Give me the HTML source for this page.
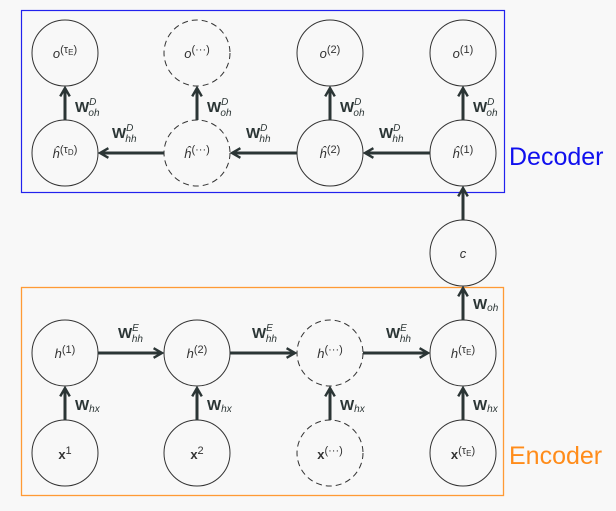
<!DOCTYPE html>
<html><head><meta charset="utf-8"><style>
body{margin:0;background:#f8f8f8;}
svg{display:block;font-family:"Liberation Sans","DejaVu Sans",sans-serif;}
.n{font-size:13px;fill:#333;font-style:italic}
.n tspan{font-style:normal}
.w{font-size:15px;font-weight:bold;fill:#2b3535}
.s{font-size:10px;font-style:italic;font-weight:normal}
</style></head><body>
<svg width="616" height="511" viewBox="0 0 616 511">
<defs><marker id="ah" viewBox="0 0 10 10" refX="8" refY="5" markerWidth="4" markerHeight="4" orient="auto"><path d="M1,1 L8,5 L1,9" fill="none" stroke="#2b3535" stroke-width="2"/></marker></defs>
<rect x="21.5" y="10.5" width="483" height="182" fill="none" stroke="#2222ee" stroke-width="1.2"/>
<rect x="21.5" y="287.5" width="482" height="208" fill="none" stroke="#ff9a35" stroke-width="1.3"/>
<text x="509" y="165" font-size="25" fill="#1010ee">Decoder</text>
<text x="509" y="464" font-size="25" fill="#ff8c1a">Encoder</text>
<g fill="none" stroke="#333" stroke-width="1">
<circle cx="65" cy="53" r="33"/>
<circle cx="197" cy="53" r="33" stroke-dasharray="6,4"/>
<circle cx="330" cy="53" r="33"/>
<circle cx="463" cy="53" r="33"/>
<circle cx="65" cy="153" r="33"/>
<circle cx="197" cy="153" r="33" stroke-dasharray="6,4"/>
<circle cx="330" cy="153" r="33"/>
<circle cx="463" cy="153" r="33"/>
<circle cx="463" cy="253" r="33"/>
<circle cx="65" cy="353" r="33"/>
<circle cx="197" cy="353" r="33"/>
<circle cx="330" cy="353" r="33" stroke-dasharray="6,4"/>
<circle cx="463" cy="353" r="33"/>
<circle cx="65" cy="453" r="33"/>
<circle cx="197" cy="453" r="33"/>
<circle cx="330" cy="453" r="33" stroke-dasharray="6,4"/>
<circle cx="463" cy="453" r="33"/>
</g>
<g stroke="#2b3535" stroke-width="3" marker-end="url(#ah)">
<line x1="65" y1="120" x2="65" y2="88"/>
<line x1="197" y1="120" x2="197" y2="88"/>
<line x1="330" y1="120" x2="330" y2="88"/>
<line x1="463" y1="120" x2="463" y2="88"/>
<line x1="164" y1="153" x2="100" y2="153"/>
<line x1="297" y1="153" x2="232" y2="153"/>
<line x1="430" y1="153" x2="365" y2="153"/>
<line x1="463" y1="220" x2="463" y2="188"/>
<line x1="463" y1="320" x2="463" y2="288"/>
<line x1="98" y1="353" x2="162" y2="353"/>
<line x1="230" y1="353" x2="295" y2="353"/>
<line x1="363" y1="353" x2="428" y2="353"/>
<line x1="65" y1="420" x2="65" y2="388"/>
<line x1="197" y1="420" x2="197" y2="388"/>
<line x1="330" y1="420" x2="330" y2="388"/>
<line x1="463" y1="420" x2="463" y2="388"/>
</g>
<g class="n" text-anchor="middle">
<text x="65" y="58">o<tspan font-size="11" dy="-5">(</tspan><tspan font-size="11" font-style="italic">τ</tspan><tspan font-size="8" dy="2" font-style="italic">E</tspan><tspan font-size="11" dy="-2">)</tspan></text>
<text x="197" y="58">o<tspan font-size="11" dy="-5">(···)</tspan></text>
<text x="330" y="58">o<tspan font-size="11" dy="-5">(2)</tspan></text>
<text x="463" y="58">o<tspan font-size="11" dy="-5">(1)</tspan></text>
<text x="65" y="158">ĥ<tspan font-size="11" dy="-5">(</tspan><tspan font-size="11" font-style="italic">τ</tspan><tspan font-size="8" dy="2" font-style="italic">D</tspan><tspan font-size="11" dy="-2">)</tspan></text>
<text x="197" y="158">ĥ<tspan font-size="11" dy="-5">(···)</tspan></text>
<text x="330" y="158">ĥ<tspan font-size="11" dy="-5">(2)</tspan></text>
<text x="463" y="158">ĥ<tspan font-size="11" dy="-5">(1)</tspan></text>
<text x="463" y="258">c</text>
<text x="65" y="358">h<tspan font-size="11" dy="-5">(1)</tspan></text>
<text x="197" y="358">h<tspan font-size="11" dy="-5">(2)</tspan></text>
<text x="330" y="358">h<tspan font-size="11" dy="-5">(···)</tspan></text>
<text x="463" y="358">h<tspan font-size="11" dy="-5">(</tspan><tspan font-size="11" font-style="italic">τ</tspan><tspan font-size="8" dy="2" font-style="italic">E</tspan><tspan font-size="11" dy="-2">)</tspan></text>
<text x="65" y="459"><tspan font-weight="bold">x</tspan><tspan font-size="11" dy="-5">1</tspan></text>
<text x="197" y="459"><tspan font-weight="bold">x</tspan><tspan font-size="11" dy="-5">2</tspan></text>
<text x="330" y="459"><tspan font-weight="bold">x</tspan><tspan font-size="11" dy="-5">(···)</tspan></text>
<text x="463" y="459"><tspan font-weight="bold">x</tspan><tspan font-size="11" dy="-5">(</tspan><tspan font-size="11" font-style="italic">τ</tspan><tspan font-size="8" dy="2" font-style="italic">E</tspan><tspan font-size="11" dy="-2">)</tspan></text>
</g>
<g class="w">
<text x="75" y="112">W<tspan class="s" dy="-7">D</tspan><tspan class="s" dx="-8" dy="11">oh</tspan></text>
<text x="207" y="112">W<tspan class="s" dy="-7">D</tspan><tspan class="s" dx="-8" dy="11">oh</tspan></text>
<text x="340" y="112">W<tspan class="s" dy="-7">D</tspan><tspan class="s" dx="-8" dy="11">oh</tspan></text>
<text x="473" y="112">W<tspan class="s" dy="-7">D</tspan><tspan class="s" dx="-8" dy="11">oh</tspan></text>
<text x="112" y="138">W<tspan class="s" dy="-7">D</tspan><tspan class="s" dx="-8" dy="11">hh</tspan></text>
<text x="246" y="138">W<tspan class="s" dy="-7">D</tspan><tspan class="s" dx="-8" dy="11">hh</tspan></text>
<text x="379" y="138">W<tspan class="s" dy="-7">D</tspan><tspan class="s" dx="-8" dy="11">hh</tspan></text>
<text x="473" y="309">W<tspan class="s" dy="2">oh</tspan></text>
<text x="118" y="338">W<tspan class="s" dy="-7">E</tspan><tspan class="s" dx="-7" dy="11">hh</tspan></text>
<text x="252" y="338">W<tspan class="s" dy="-7">E</tspan><tspan class="s" dx="-7" dy="11">hh</tspan></text>
<text x="386" y="338">W<tspan class="s" dy="-7">E</tspan><tspan class="s" dx="-7" dy="11">hh</tspan></text>
<text x="75" y="410">W<tspan class="s" dy="2">hx</tspan></text>
<text x="207" y="410">W<tspan class="s" dy="2">hx</tspan></text>
<text x="340" y="410">W<tspan class="s" dy="2">hx</tspan></text>
<text x="473" y="410">W<tspan class="s" dy="2">hx</tspan></text>
</g>
</svg>
</body></html>
